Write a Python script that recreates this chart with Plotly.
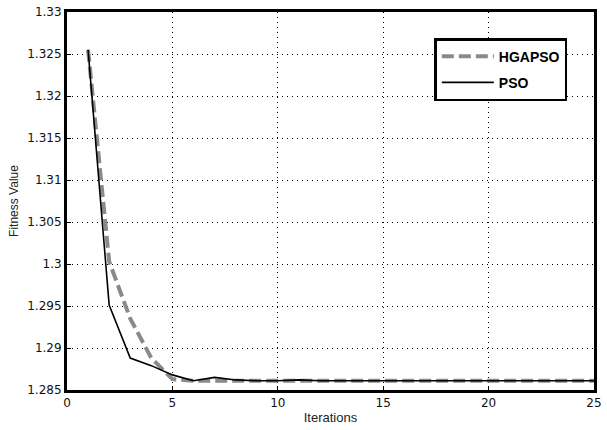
import plotly.graph_objects as go

iterations = list(range(1, 26))
hgapso = [1.3255, 1.3003, 1.2935, 1.2888, 1.2863, 1.2861, 1.2861, 1.2861, 1.2861, 1.2861,
          1.2861, 1.2861, 1.2861, 1.2861, 1.2861, 1.2861, 1.2861, 1.2861, 1.2861, 1.2861,
          1.2861, 1.2861, 1.2861, 1.2861, 1.2861]
pso = [1.3255, 1.2951, 1.2888, 1.2879, 1.2868, 1.2861, 1.2865, 1.2862, 1.2861, 1.2861,
       1.2862, 1.2861, 1.2861, 1.2861, 1.2861, 1.2861, 1.2861, 1.2861, 1.2861, 1.2861,
       1.2861, 1.2861, 1.2861, 1.2861, 1.2861]

x_ticks = [0, 5, 10, 15, 20, 25]
y_ticks = [1.285, 1.29, 1.295, 1.3, 1.305, 1.31, 1.315, 1.32, 1.325, 1.33]
y_tick_labels = ["1.285", "1.29", "1.295", "1.3", "1.305", "1.31", "1.315", "1.32", "1.325", "1.33"]

fig = go.Figure()
fig.add_trace(go.Scatter(x=iterations, y=hgapso, mode="lines", name="HGAPSO", legendgroup="g1",
                         line=dict(color="#8a8a8a", width=4, dash="12px,5px")))
fig.add_trace(go.Scatter(x=iterations, y=pso, mode="lines", name="PSO", legendgroup="g2",
                         line=dict(color="black", width=1.6)))

axis_common = dict(showline=True, linecolor="black", linewidth=3, mirror=True,
                   showgrid=True, gridcolor="black", gridwidth=1, griddash="1px,4px",
                   ticks="inside", ticklen=4, tickcolor="black", zeroline=False,
                   tickfont=dict(family="DejaVu Sans", size=12, color="#111"))

fig.update_xaxes(range=[0, 25], tickvals=x_ticks, **axis_common,
                 title=dict(text="Iterations", font=dict(family="Liberation Sans Narrow, Liberation Sans", size=13, color="#222"), standoff=4))
fig.update_yaxes(range=[1.285, 1.33], tickvals=y_ticks, ticktext=y_tick_labels, **axis_common,
                 title=dict(text="Fitness Value", font=dict(family="Liberation Sans", size=12, color="#222"), standoff=7))

fig.update_layout(
    width=607, height=430,
    margin=dict(l=67, r=5, t=11, b=40),
    plot_bgcolor="white", paper_bgcolor="white",
    legend=dict(x=0.697, y=0.931, xanchor="left", yanchor="top",
                bgcolor="white", bordercolor="black", borderwidth=2.5,
                font=dict(family="Liberation Sans", size=14, color="black", weight="bold"),
                itemwidth=52, tracegroupgap=5, traceorder="grouped"),
)

fig.write_html("out.html", config={"displayModeBar": False},
               post_script="document.body.style.margin='0';document.body.style.padding='0';")
